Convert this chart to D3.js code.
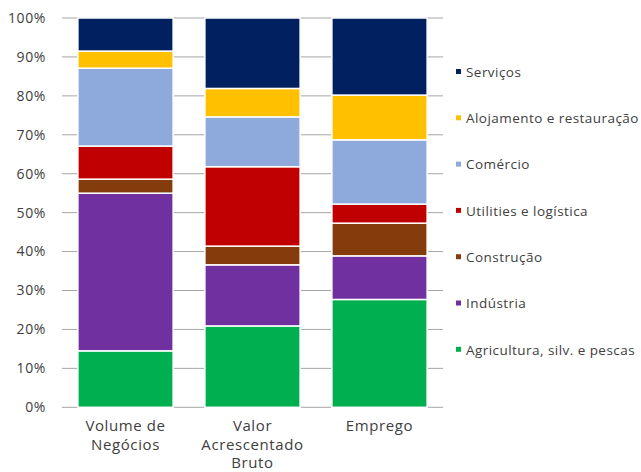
<!DOCTYPE html>
<html><head><meta charset="utf-8">
<script src="https://cdn.jsdelivr.net/npm/d3@7"></script>
<style>body{margin:0;background:#fff;} text{font-family:"Open Sans", Lato, sans-serif;fill:#404040;}</style>
</head><body>
<svg id="c" width="641" height="472"></svg>
<script>
const categories = [["Volume de","Negócios"],["Valor","Acrescentado","Bruto"],["Emprego"]];
const seriesNames = ["Agricultura, silv. e pescas","Indústria","Construção","Utilities e logística","Comércio","Alojamento e restauração","Serviços"];
const seriesColors = ["#00B050","#7030A0","#843C0C","#C00000","#8EA9DB","#FFC000","#002060"];
const agricultura = [14.5, 20.9, 27.7];
const industria = [40.5, 15.7, 11.2];
const construcao = [3.6, 4.8, 8.4];
const utilities = [8.5, 20.4, 4.9];
const comercio = [20.0, 12.8, 16.5];
const alojamento = [4.4, 7.3, 11.5];
const servicos = [8.5, 18.1, 19.8];
const yTicks = [0,10,20,30,40,50,60,70,80,90,100];

const seriesValues = [agricultura, industria, construcao, utilities, comercio, alojamento, servicos];
const rows = categories.map((c,i)=>{const r={cat:i}; seriesNames.forEach((s,j)=>r[s]=seriesValues[j][i]); return r;});
const stack = d3.stack().keys(seriesNames)(rows);

const svg = d3.select("#c");
const m = {l:62, r:443, t:18, b:407.3};
const x = d3.scaleBand().domain([0,1,2]).range([m.l, m.r]).paddingInner(0.25).paddingOuter(0.125);
const y = d3.scaleLinear().domain([0,100]).range([m.b, m.t]);

// gridlines
svg.append("g").selectAll("line").data(yTicks).join("line")
  .attr("x1", m.l).attr("x2", m.r)
  .attr("y1", d=>y(d)).attr("y2", d=>y(d))
  .attr("stroke", "#A6A6A6").attr("stroke-width", 1);

// y labels
svg.append("g").selectAll("text").data(yTicks).join("text")
  .attr("x", 46).attr("y", d=>y(d)).attr("dy","0.35em")
  .attr("text-anchor","end").attr("font-size", 14).attr("letter-spacing", 0.6)
  .text(d=>d+"%");

// bars
svg.append("g").selectAll("g").data(stack).join("g")
  .attr("fill", (d,i)=>seriesColors[i])
  .selectAll("rect").data(d=>d).join("rect")
  .attr("x", d=>x(d.data.cat)).attr("width", x.bandwidth())
  .attr("y", d=>y(d[1])).attr("height", d=>y(d[0])-y(d[1]))
  .attr("stroke","#fff").attr("stroke-width",1.5);

// x labels
const xl = svg.append("g").selectAll("text").data(categories).join("text")
  .attr("x", (d,i)=>x(i)+x.bandwidth()/2).attr("y", 431)
  .attr("text-anchor","middle").attr("font-size", 15).attr("letter-spacing", 0.6);
xl.selectAll("tspan").data(d=>d).join("tspan")
  .attr("x", function(){return d3.select(this.parentNode).attr("x");})
  .attr("dy", (d,i)=>i===0?0:18.5).text(d=>d);

// legend
const legendOrder = seriesNames.map((s,i)=>i).reverse();
const lg = svg.append("g").selectAll("g").data(legendOrder).join("g")
  .attr("transform", (d,i)=>`translate(456,${72 + i*46.3})`);
lg.append("rect").attr("x",0).attr("y",-3).attr("width",5).attr("height",5).attr("fill", d=>seriesColors[d]);
lg.append("text").attr("x",10).attr("y",0).attr("dy","0.35em").attr("font-size",13.5).attr("letter-spacing", 0.45).text(d=>seriesNames[d]);
</script>
</body></html>
